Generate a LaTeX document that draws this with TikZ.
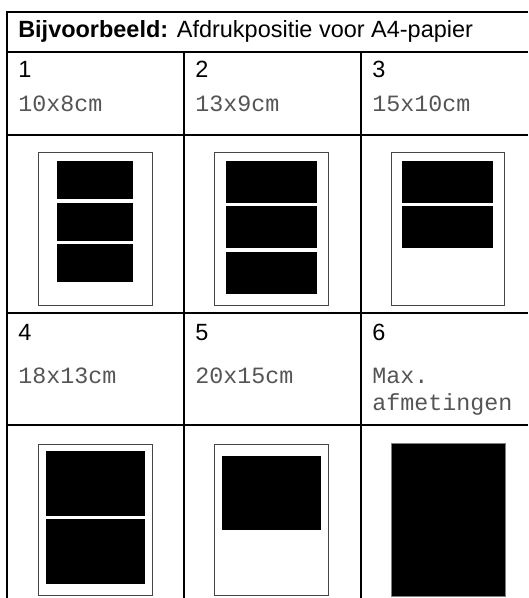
\documentclass[tikz,border=0pt]{standalone}
\usepackage{fontspec}
\setmainfont{Liberation Sans}
\newfontfamily\monofnt{Liberation Mono}
\definecolor{txtgray}{RGB}{85,85,85}
\definecolor{paperline}{RGB}{70,70,70}
\begin{document}
\begin{tikzpicture}[x=0.75pt,y=-0.75pt,
  gridline/.style={line width=1.5pt,black},
  paper/.style={draw=paperline,line width=0.75pt,fill=white},
  photo/.style={fill=black},
  lab/.style={anchor=base west,inner sep=0pt,font=\fontsize{17.6}{20}\selectfont},
  size/.style={anchor=base west,inner sep=0pt,text=txtgray,font=\monofnt\fontsize{17.5}{20}\selectfont}]
\useasboundingbox (0,0) rectangle (528,598);
% table lines
\draw[gridline] (528,12) -- (7,12) -- (7,598);
\draw[gridline] (7,52) -- (528,52);
\draw[gridline] (7,135) -- (528,135);
\draw[gridline] (7,313) -- (528,313);
\draw[gridline] (7,425) -- (528,425);
\draw[gridline] (184,52) -- (184,598);
\draw[gridline] (361,52) -- (361,598);
% texts
\node[lab] (title) at (18,38) {\textbf{Bijvoorbeeld:} Afdrukpositie voor A4-papier};
\node[lab] (n1) at (18,78) {1};
\node[lab] (n2) at (195,78) {2};
\node[lab] (n3) at (372,78) {3};
\node[size] (s1) at (18,112) {10x8cm};
\node[size] (s2) at (195,112) {13x9cm};
\node[size] (s3) at (372,112) {15x10cm};
\node[lab] (n4) at (18,340) {4};
\node[lab] (n5) at (195,340) {5};
\node[lab] (n6) at (372,340) {6};
\node[size] (s4) at (18,383) {18x13cm};
\node[size] (s5) at (195,383) {20x15cm};
\node[size] (s6a) at (372,383) {Max.};
\node[size] (s6b) at (372,410) {afmetingen};
% papers row 1
\draw[paper] (38,153) rectangle (152,305);
\fill[photo] (57,161) rectangle (133,199);
\fill[photo] (57,203) rectangle (133,241);
\fill[photo] (57,244) rectangle (133,282);
\draw[paper] (214,153) rectangle (328,305);
\fill[photo] (226,161) rectangle (317,203);
\fill[photo] (226,206) rectangle (317,248);
\fill[photo] (226,252) rectangle (317,294);
\draw[paper] (391,153) rectangle (504,305);
\fill[photo] (402,161) rectangle (493,203);
\fill[photo] (402,206) rectangle (493,248);
% papers row 2
\draw[paper] (38,444) rectangle (152,595);
\fill[photo] (46,451) rectangle (145,516);
\fill[photo] (46,519) rectangle (145,584);
\draw[paper] (214,444) rectangle (328,595);
\fill[photo] (222,456) rectangle (321,530);
\draw[draw=gray,line width=0.75pt,fill=black] (391,443) rectangle (505,596);
\end{tikzpicture}
\end{document}
